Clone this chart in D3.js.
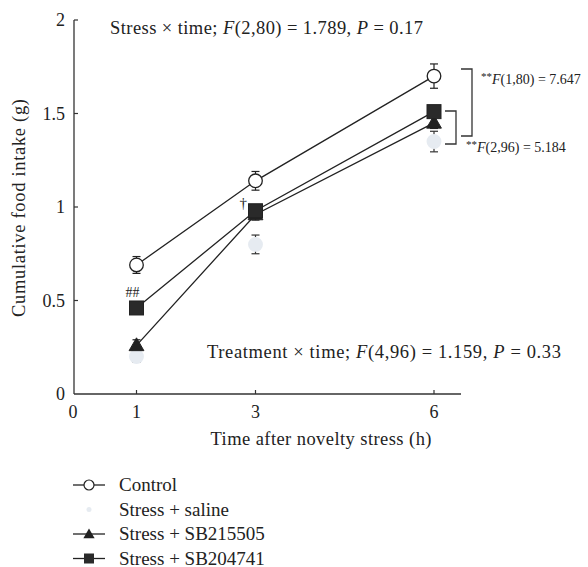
<!DOCTYPE html>
<html>
<head>
<meta charset="utf-8">
<script src="https://cdn.jsdelivr.net/npm/d3@7"></script>
<style>
  body { margin: 0; background: #fff; }
  text { font-family: "Liberation Serif", "DejaVu Serif", serif; fill: #222; }
</style>
</head>
<body>
<svg id="chart" width="588" height="567"></svg>
<script>
var times = [1, 3, 6];
var xTicks = [0, 1, 3, 6];
var yTicks = [0, 0.5, 1, 1.5, 2];
var seriesNames = ["Control", "Stress + saline", "Stress + SB215505", "Stress + SB204741"];
var control = [0.69, 1.14, 1.70];
var controlErr = [0.045, 0.05, 0.065];
var saline = [0.20, 0.80, 1.35];
var salineErr = [0.03, 0.05, 0.055];
var sb215505 = [0.26, 0.96, 1.45];
var sb215505Err = [0.03, 0.03, 0.03];
var sb204741 = [0.46, 0.98, 1.51];
var sb204741Err = [0.03, 0.03, 0.03];

var svg = d3.select("#chart");
var x = d3.scaleLinear().domain([0, 6]).range([77, 434]);
var y = d3.scaleLinear().domain([0, 2]).range([394, 20]);
var axisLeftX = 74, axisRight = 461;

var series = [
  { name: seriesNames[0], vals: control, err: controlErr, shape: "circle", fill: "#fff", stroke: "#222", line: "#222" },
  { name: seriesNames[1], vals: saline, err: salineErr, shape: "circle", fill: "#e6ebf1", stroke: "#e6ebf1", line: "none", errColor: "#333" },
  { name: seriesNames[2], vals: sb215505, err: sb215505Err, shape: "triangle", fill: "#222", stroke: "#222", line: "#222" },
  { name: seriesNames[3], vals: sb204741, err: sb204741Err, shape: "square", fill: "#2a2a2a", stroke: "#222", line: "#222" }
];

// axes
svg.append("line").attr("x1", axisLeftX).attr("x2", axisLeftX).attr("y1", y(2)).attr("y2", y(0))
  .attr("stroke", "#333").attr("stroke-width", 1.3);
svg.append("line").attr("x1", axisLeftX).attr("x2", axisRight).attr("y1", y(0)).attr("y2", y(0))
  .attr("stroke", "#333").attr("stroke-width", 1.3);

var yg = svg.append("g");
yg.selectAll("line").data(yTicks.filter(function (d) { return d > 0; })).enter().append("line")
  .attr("x1", axisLeftX).attr("x2", axisLeftX + 4)
  .attr("y1", function (d) { return y(d); }).attr("y2", function (d) { return y(d); })
  .attr("stroke", "#333").attr("stroke-width", 1.2);
yg.selectAll("text").data(yTicks).enter().append("text")
  .attr("x", 65).attr("y", function (d) { return y(d) + 6; })
  .attr("text-anchor", "end").attr("font-size", 18)
  .text(function (d) { return d; });

var xg = svg.append("g");
xg.selectAll("line").data(times).enter().append("line")
  .attr("x1", function (d) { return x(d); }).attr("x2", function (d) { return x(d); })
  .attr("y1", y(0)).attr("y2", y(0) - 4)
  .attr("stroke", "#333").attr("stroke-width", 1.2);
xg.selectAll("text").data(xTicks).enter().append("text")
  .attr("x", function (d) { return d === 0 ? axisLeftX - 1 : x(d); }).attr("y", 418)
  .attr("text-anchor", "middle").attr("font-size", 18)
  .text(function (d) { return d; });

svg.append("text").attr("x", 321).attr("y", 445).attr("text-anchor", "middle")
  .attr("font-size", 18.5).attr("textLength", 221).text("Time after novelty stress (h)");
svg.append("text").attr("transform", "translate(25,208) rotate(-90)").attr("text-anchor", "middle")
  .attr("font-size", 18.5).attr("textLength", 218).text("Cumulative food intake (g)");

// lines
var lineGen = d3.line().x(function (d, i) { return x(times[i]); }).y(function (d) { return y(d); });
series.forEach(function (s) {
  if (s.line === "none") return;
  svg.append("path").datum(s.vals).attr("d", lineGen)
    .attr("fill", "none").attr("stroke", s.line).attr("stroke-width", 1.3);
});

// error bars
series.forEach(function (s) {
  var g = svg.append("g").attr("stroke", s.errColor || "#222").attr("stroke-width", 1.2);
  s.vals.forEach(function (v, i) {
    var cx = x(times[i]);
    var lo = y(v - s.err[i]), hi = y(v + s.err[i]);
    g.append("line").attr("x1", cx).attr("x2", cx).attr("y1", lo).attr("y2", hi);
    g.append("line").attr("x1", cx - 4).attr("x2", cx + 4).attr("y1", lo).attr("y2", lo);
    g.append("line").attr("x1", cx - 4).attr("x2", cx + 4).attr("y1", hi).attr("y2", hi);
  });
});

function drawMarker(g, shape, cx, cy, fill, stroke) {
  if (shape === "circle") {
    g.append("circle").attr("cx", cx).attr("cy", cy).attr("r", 6.8)
      .attr("fill", fill).attr("stroke", stroke).attr("stroke-width", 1.3);
  } else if (shape === "square") {
    g.append("rect").attr("x", cx - 7).attr("y", cy - 7).attr("width", 14).attr("height", 14)
      .attr("fill", fill).attr("stroke", stroke);
  } else {
    g.append("path").attr("d", d3.symbol().type(d3.symbolTriangle).size(95)())
      .attr("transform", "translate(" + cx + "," + (cy + 1) + ")")
      .attr("fill", fill).attr("stroke", stroke);
  }
}

// markers (saline, triangle, square, control order)
[1, 2, 3, 0].forEach(function (k) {
  var s = series[k];
  var g = svg.append("g");
  s.vals.forEach(function (v, i) { drawMarker(g, s.shape, x(times[i]), y(v), s.fill, s.stroke); });
});

// annotations
var topNote = svg.append("text").attr("x", 110).attr("y", 34).attr("font-size", 18.5)
  .attr("textLength", 313);
topNote.append("tspan").text("Stress \u00d7 time; ");
topNote.append("tspan").attr("font-style", "italic").text("F");
topNote.append("tspan").text("(2,80) = 1.789, ");
topNote.append("tspan").attr("font-style", "italic").text("P");
topNote.append("tspan").text(" = 0.17");

var botNote = svg.append("text").attr("x", 207).attr("y", 358).attr("font-size", 18.5)
  .attr("textLength", 354);
botNote.append("tspan").text("Treatment \u00d7 time; ");
botNote.append("tspan").attr("font-style", "italic").text("F");
botNote.append("tspan").text("(4,96) = 1.159, ");
botNote.append("tspan").attr("font-style", "italic").text("P");
botNote.append("tspan").text(" = 0.33");

svg.append("text").attr("x", x(1) - 11).attr("y", y(sb204741[0]) - 11).attr("font-size", 14).text("##");
svg.append("text").attr("x", x(3) - 16).attr("y", y(sb204741[1]) - 3).attr("font-size", 15).text("\u2020");

// brackets
function bracket(x0, x1, y0, y1) {
  svg.append("path").attr("d", "M" + x0 + "," + y0 + "H" + x1 + "V" + y1 + "H" + x0)
    .attr("fill", "none").attr("stroke", "#333").attr("stroke-width", 1.3);
}
bracket(461, 472, 69, 136);
bracket(445, 456, 111, 144);

function fText(xp, yp, args, val) {
  var t = svg.append("text").attr("x", xp).attr("y", yp).attr("font-size", 14);
  t.append("tspan").attr("dy", -4).attr("font-size", 11).text("**");
  t.append("tspan").attr("dy", 4).attr("font-style", "italic").text("F");
  t.append("tspan").text(args + " = " + val);
}
fText(481, 84, "(1,80)", "7.647");
fText(466, 152, "(2,96)", "5.184");

// legend
var leg = svg.append("g");
series.forEach(function (s, i) {
  var ly = 485 + i * 24.5;
  if (s.line !== "none") {
    leg.append("line").attr("x1", 73).attr("x2", 105).attr("y1", ly).attr("y2", ly)
      .attr("stroke", s.line).attr("stroke-width", 1.3);
  }
  var gm = leg.append("g");
  if (s.shape === "circle" && i === 0) {
    gm.append("circle").attr("cx", 89).attr("cy", ly).attr("r", 5)
      .attr("fill", "#fff").attr("stroke", "#222").attr("stroke-width", 1.2);
  } else if (s.shape === "circle") {
    gm.append("circle").attr("cx", 89).attr("cy", ly).attr("r", 2.5).attr("fill", s.fill);
  } else if (s.shape === "square") {
    gm.append("rect").attr("x", 84).attr("y", ly - 5).attr("width", 10).attr("height", 10).attr("fill", s.fill);
  } else {
    gm.append("path").attr("d", d3.symbol().type(d3.symbolTriangle).size(55)())
      .attr("transform", "translate(89," + (ly + 1) + ")").attr("fill", s.fill);
  }
  leg.append("text").attr("x", 119).attr("y", ly + 6).attr("font-size", 19).text(s.name);
});
</script>
</body>
</html>
